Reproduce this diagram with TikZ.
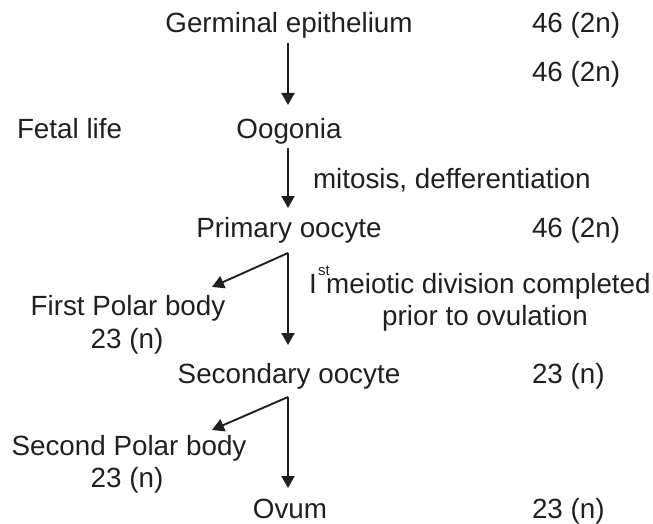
\documentclass[tikz,border=0pt]{standalone}
\usepackage{fontspec}
\setmainfont{Liberation Sans}
\usetikzlibrary{arrows.meta}
\definecolor{ink}{RGB}{35,31,32}
\begin{document}
\begin{tikzpicture}[x=1pt,y=-1pt,
  every node/.style={font=\fontsize{27.8pt}{33pt}\selectfont, text=ink, inner sep=0pt, outer sep=0pt},
  lbl/.style={anchor=base},
  lblw/.style={anchor=base west},
  arr/.style={draw=ink, line width=1.9pt, -{Triangle[width=13pt,length=12pt]}}]
\useasboundingbox (0,0) rectangle (653,524);
% central column
\node[lbl]  (germ) at (289,33)  {Germinal epithelium};
\node[lbl]  (oog)  at (289,139) {Oogonia};
\node[lbl]  (prim) at (289,237) {Primary oocyte};
\node[lbl]  (sec)  at (289,383) {Secondary oocyte};
\node[lbl]  (ovum) at (290,518) {Ovum};
% right column
\node[lblw] (c1) at (532,33)  {46 (2n)};
\node[lblw] (c2) at (532,82)  {46 (2n)};
\node[lblw] (c3) at (532,237) {46 (2n)};
\node[lblw] (c4) at (532,383) {23 (n)};
\node[lblw] (c5) at (532,518) {23 (n)};
% side labels
\node[lblw] (fetal) at (17,139) {Fetal life};
\node[lblw] (mit)   at (313,188) {mitosis, defferentiation};
\node[lblw] (mei)   at (309,293) {I\kern1.5pt\rlap{\raisebox{18pt}{\fontsize{15pt}{15pt}\selectfont st}}\kern8pt meiotic division completed};
\node[lbl]  (prior) at (485,325) {prior to ovulation};
\node[lbl]  (fpb)   at (128,315) {First Polar body};
\node[lbl]  (fpbn)  at (127,348) {23 (n)};
\node[lbl]  (spb)   at (129,455) {Second Polar body};
\node[lbl]  (spbn)  at (127,487) {23 (n)};
% connectors
\draw[arr] ([xshift=-1pt,yshift=-10pt]germ.base) -- ([xshift=-1pt,yshift=34pt]oog.base);
\draw[arr] ([xshift=-1pt,yshift=-9pt]oog.base) -- ([xshift=-1pt,yshift=29pt]prim.base);
\coordinate (k1) at ([xshift=-1pt,yshift=-16pt]prim.base);
\draw[arr] (k1) -- ([xshift=-1pt,yshift=38pt]sec.base);
\draw[arr] (k1) -- ([xshift=84pt,yshift=28pt]fpb.base);
\coordinate (k2) at ([xshift=-1pt,yshift=-14pt]sec.base);
\draw[arr] (k2) -- ([xshift=-2pt,yshift=30pt]ovum.base);
\draw[arr] (k2) -- ([xshift=83pt,yshift=25pt]spb.base);
\end{tikzpicture}
\end{document}
